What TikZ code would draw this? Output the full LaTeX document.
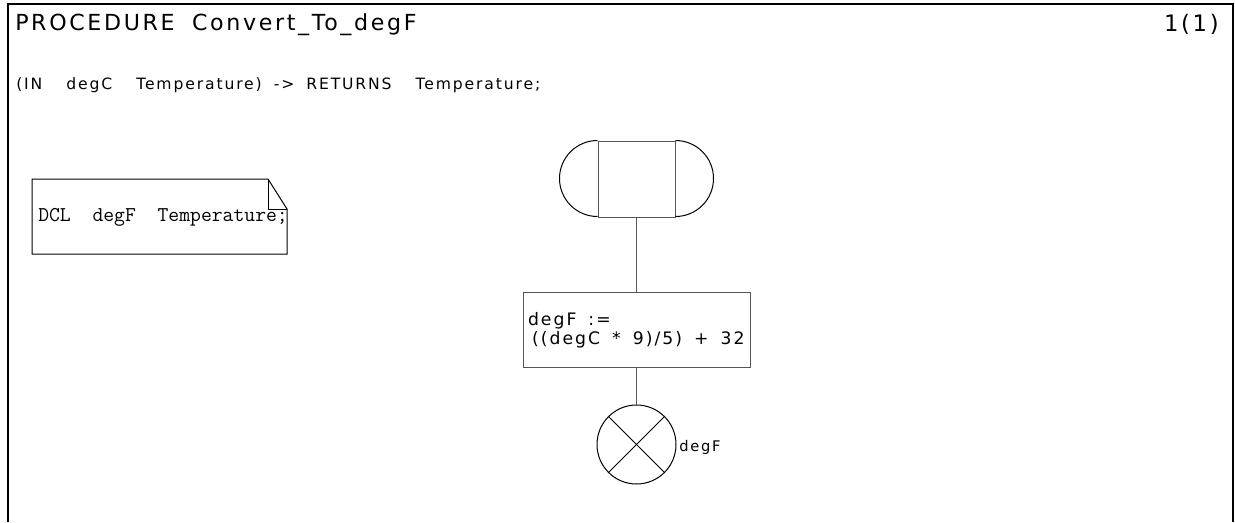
\documentclass[tikz,border=0pt]{standalone}
\usepackage{fontspec}
\usetikzlibrary{positioning}
\newfontfamily\sdlfont[LetterSpace=12]{DejaVu Sans}
\definecolor{sdlline}{RGB}{85,85,85}
\newcommand{\sdlsize}[1]{\sdlfont\fontsize{#1}{14.25}\selectfont}
\newcommand{\blank}[1][9pt]{\hspace{#1}}

\begin{document}
\begin{tikzpicture}[x=0.75pt, y=-0.75pt,
    txt/.style={inner sep=0pt, anchor=base west},
    sdlbox/.style={draw=sdlline, line width=0.75pt, rectangle, inner sep=0pt},
    flow/.style={draw=sdlline, line width=0.75pt}]
  \useasboundingbox (0,0) rectangle (1235,522);

  % --- Frame and header ---
  \draw[line width=1.5pt] (8,522) -- (8,4) -- (1233,4) -- (1233,522);
  \node[txt, font=\sdlsize{16.6}] (title) at (15,30) {PROCEDURE\blank[13pt]Convert\_To\_degF};
  \node[txt, anchor=base east, font=\sdlsize{17}] (page) at (1219,31) {1(1)};
  \node[txt, font=\sdlsize{11.7}] (params) at (16,89)
    {(IN\blank\blank degC\blank\blank Temperature)\blank->\blank RETURNS\blank\blank Temperature;};

  % --- Declaration (text symbol) ---
  \draw[line width=0.75pt] (32,179) -- (268,179) -- (287,209) -- (287,254)
    -- (32,254) -- cycle;
  \draw[line width=0.75pt] (268,179) -- (268,209) -- (287,209);
  \node[txt, font=\ttfamily\fontsize{15.8}{16}\selectfont] (dcl) at (38,221)
    {DCL~~degF~~Temperature;};

  % --- Procedure start ---
  \node[sdlbox, minimum width=57.75pt, minimum height=57pt] (start) at (636.5,179) {};
  \draw[line width=0.75pt] (start.north west) arc[start angle=90, end angle=270, radius=28.5pt];
  \draw[line width=0.75pt] (start.north east) arc[start angle=90, end angle=-90, radius=28.5pt];

  % --- Task ---
  \node[sdlbox, minimum height=56.6pt, text width=162.75pt, inner xsep=3.75pt,
        align=left, font=\sdlsize{12.9}] (task) at (636.5,330)
    {\mbox{degF\blank:=}\\\mbox{\hspace{3pt}((degC\blank*\blank9)/5)\blank+\blank32}};

  % --- Return ---
  \node[circle, draw, line width=0.75pt, minimum size=59.25pt, inner sep=0pt] (ret) at (636.5,444.5) {};
  \draw[line width=0.75pt] (ret.north west) -- (ret.south east);
  \draw[line width=0.75pt] (ret.north east) -- (ret.south west);
  \node[txt, font=\sdlsize{11}] (retval) at (679,451) {degF};

  % --- Flow lines ---
  \draw[flow] (start) -- (task);
  \draw[flow] (task) -- (ret);
\end{tikzpicture}
\end{document}
